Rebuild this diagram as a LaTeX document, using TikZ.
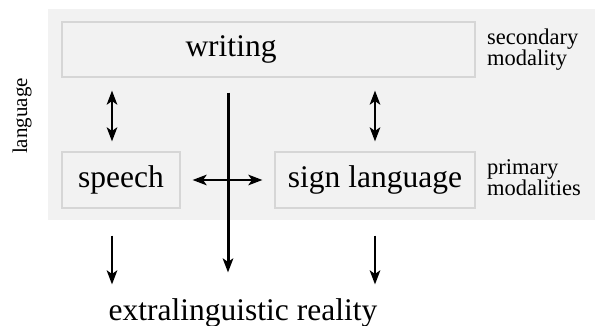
\documentclass[tikz,border=0pt]{standalone}
\usepackage{fontspec}
\setmainfont{Liberation Serif}
\usepackage{xcolor}
\definecolor{panel}{HTML}{F2F2F2}
\definecolor{rim}{HTML}{D6D6D6}
\usetikzlibrary{arrows.meta, calc}

\begin{document}
\begin{tikzpicture}[x=1pt, y=-1pt,
  box/.style={draw=rim, line width=1.2pt, fill=panel, inner sep=0pt},
  big/.style={font=\fontsize{31.5}{36}\selectfont},
  small/.style={font=\fontsize{22.5}{21}\selectfont, align=left, anchor=west, inner sep=0pt},
  link/.style={line width=2.4pt, -{Stealth[length=14pt, width=10.5pt, inset=3.5pt]}},
  dlink/.style={line width=2.4pt, {Stealth[length=14pt, width=10.5pt, inset=3.5pt]}-{Stealth[length=14pt, width=10.5pt, inset=3.5pt]}}]
  \useasboundingbox (0,0) rectangle (595,326);
  % Grey panel behind the language part.
  \fill[panel] (48,9) rectangle (595,220);
  % Modalities.
  \node[box, minimum width=413pt, minimum height=55pt] (writing) at (268.5,49.5) {};
  \node[big] (writingtxt) at (231,49.5) {writing};
  \node[box, big, minimum width=118pt, minimum height=56pt] (speech) at (121,180) {speech};
  \node[box, big, minimum width=200pt, minimum height=56pt] (sign) at (375,180) {sign language};
  % Side labels.
  \node[small] (secondary) at (487,50) {secondary\\modality};
  \node[small] (primary) at (487,178) {primary\\modalities};
  \node[font=\fontsize{21}{24}\selectfont, rotate=90] (language) at (22,116) {language};
  \node[big, anchor=base, inner sep=0pt] (reality) at (243,320) {extralinguistic reality};
  % Arrows.
  \coordinate (spx) at ([xshift=-9pt]speech.north);
  \coordinate (mid) at (228,0);
  \draw[dlink, shorten <=13pt, shorten >=10pt] (spx |- writing.south) -- (spx);
  \draw[dlink, shorten <=13pt, shorten >=10pt] (sign.north |- writing.south) -- (sign.north);
  \draw[dlink, shorten <=12pt, shorten >=12pt] (speech.east) -- (sign.west);
  \draw[link, line width=3pt, shorten <=15pt, shorten >=25.5pt] (mid |- writing.south) -- (mid |- reality.north);
  \foreach \p in {spx, sign.south}
    \draw[link, shorten <=27pt, shorten >=13.5pt] (\p |- speech.south) -- (\p |- reality.north);
\end{tikzpicture}
\end{document}
